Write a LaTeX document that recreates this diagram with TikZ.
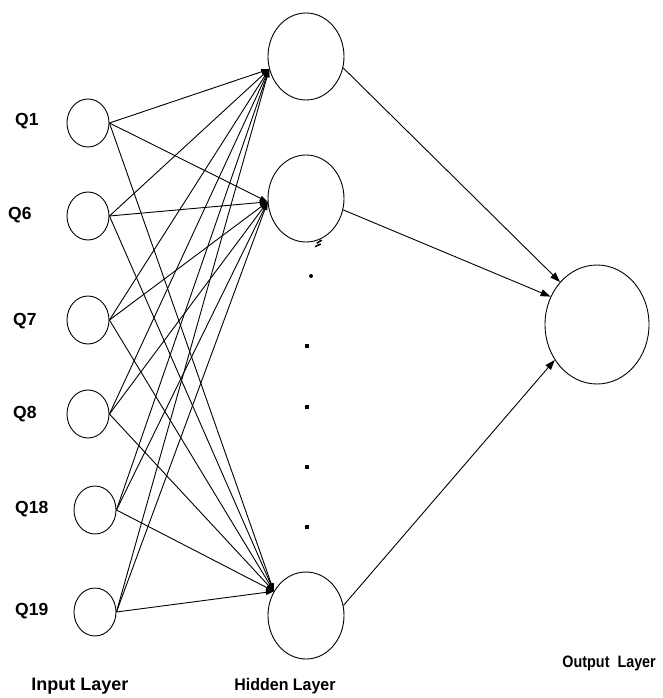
\documentclass[tikz,border=0pt]{standalone}
\usepackage{fontspec}
\setmainfont{Liberation Sans}
\usetikzlibrary{shapes.geometric,arrows.meta}
\begin{document}
\begin{tikzpicture}[x=1pt,y=-1pt,
  neuron/.style={draw,ellipse,line width=0.9pt,inner sep=0pt},
  inneuron/.style={neuron,minimum width=42pt,minimum height=48pt},
  hidneuron/.style={neuron,minimum width=76pt,minimum height=87pt},
  outneuron/.style={neuron,minimum width=104pt,minimum height=119pt},
  qlabel/.style={anchor=base west,inner sep=0pt,font=\fontsize{17.5}{20}\bfseries\selectfont},
  layerlabel/.style={inner sep=0pt,font=\fontsize{#1}{20}\bfseries\selectfont},
  link/.style={line width=0.9pt,-{Triangle[length=8pt,width=5pt]}},
  outlink/.style={line width=0.9pt,-{Triangle[length=10pt,width=7pt]}}
]
\useasboundingbox (0,0) rectangle (662,698);

% input layer
\node[inneuron] (q1)  at (88,123) {};
\node[inneuron] (q6)  at (88,216) {};
\node[inneuron] (q7)  at (88,320) {};
\node[inneuron] (q8)  at (88,414) {};
\node[inneuron] (q18) at (95,510) {};
\node[inneuron] (q19) at (95,612) {};

\node[qlabel] (l1)  at (15,125) {Q1};
\node[qlabel] (l6)  at (8,219)  {Q6};
\node[qlabel] (l7)  at (13,325) {Q7};
\node[qlabel] (l8)  at (13,418) {Q8};
\node[qlabel] (l18) at (15,513) {Q18};
\node[qlabel] (l19) at (15,615) {Q19};

% hidden layer
\node[hidneuron] (h1) at (306,56.5)  {};
\node[hidneuron] (h2) at (306,198.5) {};
\node[hidneuron] (h3) at (306,615.5) {};

% output layer
\node[outneuron] (o) at (597,324.5) {};

% input -> hidden connections
\foreach \q in {q1,q6,q7,q8,q18,q19}{
  \draw[link] (\q.east) -- (h1.199);
  \draw[link] (\q.east) -- (h2.185);
  \draw[link] (\q.east) -- (h3.143);
}

% hidden -> output connections
\draw[outlink] (h1.343) -- (o.131);
\draw[outlink] (h2.343) -- (o.149);
\draw[outlink] (h3.15)  -- (o.220);

% ellipsis between hidden neurons
\draw[line width=1.5pt] (316.7,243.3) -- (321.7,240);
\draw[line width=1.5pt] (315,246.7) -- (320.7,244);
\fill (311,276) circle (2);
\foreach \yy in {346,407,467,527}
  \fill (305,\yy-2) rectangle (309,\yy+2);

% layer titles
\node[layerlabel=18,anchor=base] (ti) at (80,690)  {Input Layer};
\node[layerlabel=16.8,anchor=base] (th) at (285,690) {\scalebox{0.95}[1]{Hidden Layer}};
\node[layerlabel=16.5,anchor=base east] (to) at (656,667) {\scalebox{0.87}[1]{Output~~Layer}};
\end{tikzpicture}
\end{document}
